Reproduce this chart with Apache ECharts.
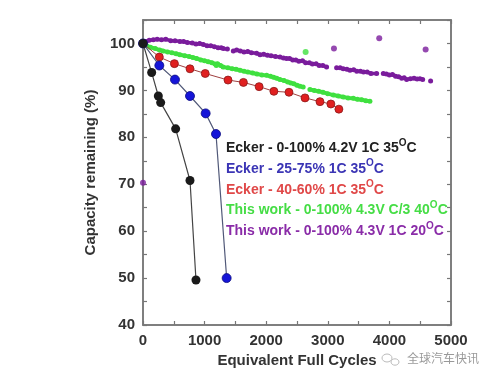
<!DOCTYPE html>
<html><head><meta charset="utf-8">
<script src="https://cdn.jsdelivr.net/npm/echarts@6/dist/echarts.min.js"></script>
<style>html,body{margin:0;padding:0;background:#fff}#c{width:496px;height:378px}</style>
</head><body><div id="c"></div>
<script>
const seriesNames = [
  'Ecker - 0-100% 4.2V 1C 35°C',
  'Ecker - 25-75% 1C 35°C',
  'Ecker - 40-60% 1C 35°C',
  'This work - 0-100% 4.3V C/3 40°C',
  'This work - 0-100% 4.3V 1C 20°C'
];
const seriesColors = ['#1a1a1a', '#1515d8', '#e02020', '#3fe03f', '#7a1c9c'];
const legendColors = ['#222222', '#3b35b5', '#e04848', '#45dd45', '#8a2ca8'];

const ecker0100 = [[0,100],[141,93.8],[249,88.8],[287,87.4],[530,81.8],[763,70.8],[860,49.6]];
const ecker2575 = [[0,100],[265,95.3],[519,92.3],[763,88.8],[1017,85.1],[1185,80.7],[1358,50.0]];
const ecker4060 = [[0,100],[265,97.1],[510,95.7],[763,94.6],[1010,93.6],[1380,92.2],[1630,91.7],[1885,90.8],[2125,89.8],[2370,89.6],[2630,88.4],[2873,87.6],[3050,87.1],[3180,86.0]];
const workC3 = [[0,100],[60,99.5],[120,99.2],[200,98.9],[270,98.6],[325,98.4],[400,98.2],[470,98.0],[540,97.8],[600,97.6],[680,97.4],[750,97.2],[810,97.0],[871,96.8],[940,96.5],[1000,96.3],[1060,96.1],[1120,95.9],[1170,95.6],[1190,95.3],[1210,95.7],[1260,95.3],[1300,95.0],[1380,94.8],[1450,94.6],[1510,94.5],[1574,94.3],[1640,94.1],[1700,93.9],[1780,93.7],[1850,93.5],[1930,93.3],[2007,93.2],[2070,93.0],[2120,92.8],[2170,92.6],[2224,92.3],[2290,92.1],[2350,91.8],[2400,91.6],[2450,91.4],[2500,91.1],[2548,90.9],[2600,90.7],[2655,null],[2710,90.2],[2780,90.0],[2850,89.8],[2920,89.6],[3000,89.3],[3089,89.0],[3170,88.8],[3250,88.6],[3330,88.4],[3414,88.3],[3480,88.1],[3550,88.0],[3620,87.8],[3684,87.7]];
const workC3Outliers = [[2640,98.2]];
const work1C = [[0,100],[50,100.4],[100,100.7],[167,100.8],[230,100.9],[300,100.8],[370,100.9],[450,100.6],[520,100.6],[600,100.4],[660,100.4],[720,100.2],[800,100.1],[860,99.9],[920,100.0],[979,99.8],[1040,99.5],[1100,99.5],[1160,99.3],[1220,99.1],[1270,99.1],[1304,98.9],[1370,98.8],[1412,null],[1466,98.4],[1520,98.6],[1580,98.4],[1640,98.2],[1700,98.3],[1760,98.0],[1845,97.9],[1900,97.6],[1960,97.7],[2020,97.5],[2080,97.4],[2150,97.2],[2224,97.1],[2280,96.9],[2330,96.8],[2380,96.8],[2430,96.5],[2480,96.5],[2530,96.2],[2590,96.3],[2640,95.9],[2700,95.9],[2750,95.6],[2810,95.7],[2860,95.3],[2920,95.3],[2980,95.0],[3062,null],[3143,94.8],[3200,94.8],[3250,94.6],[3310,94.5],[3360,94.3],[3420,94.4],[3470,94.1],[3530,94.1],[3580,93.9],[3640,93.9],[3700,93.6],[3793,93.6],[3847,null],[3901,93.6],[3950,93.5],[4000,93.3],[4050,93.4],[4100,93.0],[4150,92.9],[4200,92.6],[4240,92.7],[4280,92.3],[4340,92.5],[4400,92.6],[4450,92.4],[4496,92.5],[4540,92.3],[4600,null],[4669,92.0]];
const work1COutliers = [[0,70.3],[3100,98.9],[3835,101.1],[4588,98.7]];

const xMin = 0, xMax = 5000, xInterval = 500;
const yMin = 40, yMax = 105, yInterval = 5;

const font = 'Liberation Sans, Arial, sans-serif';
const labelStyle = {color:'#333', fontWeight:'bold', fontSize:15, fontFamily:font};

const chart = echarts.init(document.getElementById('c'));
const axisCommon = {
  axisLine:{show:true, onZero:false, lineStyle:{color:'#777', width:1.5}},
  axisTick:{show:true, inside:true, length:4, lineStyle:{color:'#777', width:1.2}},
  splitLine:{show:false}
};
function fmtX(v){ return v % 1000 === 0 ? String(v) : ''; }
function fmtY(v){ return v % 10 === 0 ? String(v) : ''; }

chart.setOption({
  animation:false,
  backgroundColor:'#fff',
  grid:{left:143, right:45, top:20, bottom:53, show:true, borderColor:'#777', borderWidth:1.5, backgroundColor:'transparent'},
  legend:{
    orient:'vertical', left:216, top:133, icon:'none', itemWidth:0, itemHeight:10, itemGap:0,
    selectedMode:false,
    textStyle:{fontWeight:'bold', fontSize:14, fontFamily:font, lineHeight:20.7,
      rich:{sup:{fontSize:10, fontWeight:'bold', fontFamily:font, verticalAlign:'top', lineHeight:12, padding:[0,0,6,0]}}},
    formatter:function(n){ return n.replace('°', '{sup|O}'); },
    data: seriesNames.map((n,i)=>({name:n, textStyle:{color:legendColors[i]}}))
  },
  xAxis:[
    Object.assign({type:'value', min:xMin, max:xMax, interval:xInterval, position:'bottom',
      name:'Equivalent Full Cycles', nameLocation:'middle', nameGap:24,
      nameTextStyle:{color:'#333', fontWeight:'bold', fontSize:15, fontFamily:font},
      axisLabel:Object.assign({formatter:fmtX, margin:8, showMaxLabel:true}, labelStyle)}, axisCommon),
    Object.assign({type:'value', min:xMin, max:xMax, interval:xInterval, position:'top',
      axisLabel:{show:false}}, axisCommon)
  ],
  yAxis:[
    Object.assign({type:'value', min:yMin, max:yMax, interval:yInterval, position:'left',
      name:'Capacity remaining (%)', nameLocation:'middle', nameGap:45,
      nameTextStyle:{color:'#333', fontWeight:'bold', fontSize:15, fontFamily:font},
      axisLabel:Object.assign({formatter:fmtY, margin:8}, labelStyle)}, axisCommon),
    Object.assign({type:'value', min:yMin, max:yMax, interval:yInterval, position:'right',
      axisLabel:{show:false}}, axisCommon)
  ],
  series:[
    {type:'line', xAxisIndex:1, yAxisIndex:1, data:[], silent:true},
    {name:seriesNames[4], type:'line', data:work1C, symbol:'circle', symbolSize:5, connectNulls:false,
      itemStyle:{color:seriesColors[4]}, lineStyle:{color:seriesColors[4], width:3.5}, z:2},
    {name:seriesNames[4], type:'scatter', data:work1COutliers, symbolSize:6, itemStyle:{color:seriesColors[4]}, z:2},
    {name:seriesNames[3], type:'line', data:workC3, symbol:'circle', symbolSize:5, connectNulls:false,
      itemStyle:{color:seriesColors[3]}, lineStyle:{color:seriesColors[3], width:4}, z:3},
    {name:seriesNames[3], type:'scatter', data:workC3Outliers, symbolSize:6, itemStyle:{color:seriesColors[3]}, z:3},
    {name:seriesNames[2], type:'line', data:ecker4060, symbol:'circle', symbolSize:8,
      itemStyle:{color:seriesColors[2], borderColor:'#8a1a1a', borderWidth:0.8}, lineStyle:{color:'#a04040', width:1}, z:4},
    {name:seriesNames[1], type:'line', data:ecker2575, symbol:'circle', symbolSize:9,
      itemStyle:{color:seriesColors[1], borderColor:'#0a0a80', borderWidth:0.8}, lineStyle:{color:'#505878', width:1.2}, z:5},
    {name:seriesNames[0], type:'line', data:ecker0100, symbol:'circle', symbolSize:9,
      itemStyle:{color:seriesColors[0]}, lineStyle:{color:'#444', width:1.2}, z:6}
  ],
  graphic:[
    {type:'ellipse', shape:{cx:387, cy:358, rx:5, ry:4}, style:{fill:'none', stroke:'#bbb', lineWidth:1}, z:10},
    {type:'ellipse', shape:{cx:395, cy:362, rx:4, ry:3.2}, style:{fill:'#fff', stroke:'#bbb', lineWidth:1}, z:10},
    {type:'text', left:407, top:352, style:{text:'全球汽车快讯', font:'12px "Noto Sans CJK SC"', fill:'#999'}, z:10}
  ]
});
</script></body></html>
